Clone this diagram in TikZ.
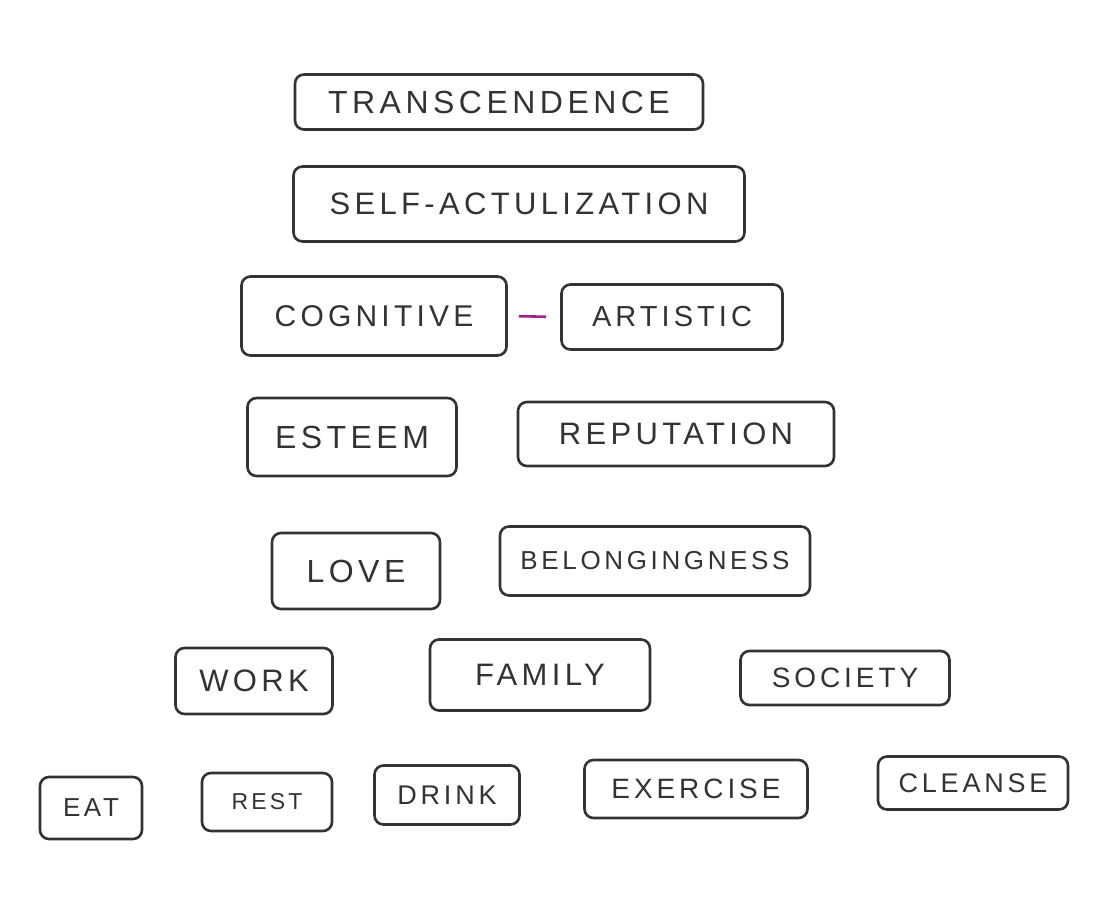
\documentclass[tikz,border=0pt]{standalone}
\usepackage{fontspec}
\newfontfamily\hand{Liberation Sans}[LetterSpace=14]
\definecolor{ink}{HTML}{333333}
\definecolor{pen}{HTML}{A0208C}
\tikzset{
  box/.style={draw=ink, line width=2.6pt, rounded corners=9pt, inner sep=0pt, text=ink, font=\hand},
  link/.style={draw=pen, line width=2.6pt}
}
\newcommand{\fs}[1]{\fontsize{#1}{#1}\selectfont}
\begin{document}
\begin{tikzpicture}[x=1pt,y=-1pt]
\useasboundingbox[fill=white] (0,0) rectangle (1111,906);
\node[box, minimum width=408pt, minimum height=55pt, font=\hand\fs{32}] (trans) at (499,102) {TRANSCENDENCE};
\node[box, minimum width=451pt, minimum height=75pt, font=\hand\fs{31}] (self) at (519,204) {SELF-ACTULIZATION};
\node[box, minimum width=265pt, minimum height=79pt, font=\hand\fs{30}] (cog) at (374,316) {COGNITIVE};
\node[box, minimum width=221pt, minimum height=65pt, font=\hand\fs{29}] (art) at (672,317) {ARTISTIC};
\node[box, minimum width=209pt, minimum height=78pt, font=\hand\fs{32}] (est) at (352,437) {ESTEEM};
\node[box, minimum width=316pt, minimum height=64pt, font=\hand\fs{31}] (rep) at (676,434) {REPUTATION};
\node[box, minimum width=168pt, minimum height=76pt, font=\hand\fs{32}] (love) at (356,571) {LOVE};
\node[box, minimum width=310pt, minimum height=69pt, font=\hand\fs{26}] (bel) at (655,561) {BELONGINGNESS};
\node[box, minimum width=157pt, minimum height=66pt, font=\hand\fs{31}] (work) at (254,681) {WORK};
\node[box, minimum width=220pt, minimum height=71pt, font=\hand\fs{31}] (fam) at (540,675) {FAMILY};
\node[box, minimum width=209pt, minimum height=54pt, font=\hand\fs{28}] (soc) at (845,678) {SOCIETY};
\node[box, minimum width=102pt, minimum height=62pt, font=\hand\fs{26}] (eat) at (91,808) {EAT};
\node[box, minimum width=130pt, minimum height=58pt, font=\hand\fs{23}] (rest) at (267,802) {REST};
\node[box, minimum width=145pt, minimum height=59pt, font=\hand\fs{27}] (drink) at (447,795) {DRINK};
\node[box, minimum width=223pt, minimum height=58pt, font=\hand\fs{28}] (exer) at (696,789) {EXERCISE};
\node[box, minimum width=190pt, minimum height=53pt, font=\hand\fs{27}] (clean) at (973,783) {CLEANSE};
\draw[link, shorten <=11pt, shorten >=14pt] (cog.east) -- (art.west);
\end{tikzpicture}
\end{document}
